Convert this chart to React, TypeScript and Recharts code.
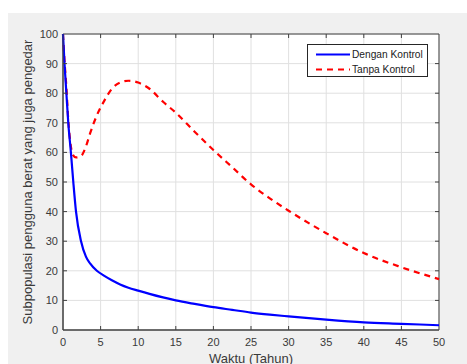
import { LineChart, Line, XAxis, YAxis, CartesianGrid, Legend, ReferenceArea } from 'recharts';

if (typeof document !== 'undefined') document.body.style.margin = '0';

// Time (years) and the two subpopulation curves
const waktu = [0, 0.2, 0.45, 0.7, 1.05, 1.37, 1.73, 2.4, 3.05, 3.6, 4.5, 5.5, 6.5, 7.6, 8.7, 10, 11.5, 13.3, 15, 17.5, 20, 22.5, 25, 27.5, 30, 35, 40, 45, 50];
const denganKontrol = [100, 90, 80, 70, 60, 50, 40, 30, 24.8, 22.5, 20, 18.3, 16.8, 15.4, 14.3, 13.3, 12.2, 11, 10, 8.8, 7.7, 6.8, 5.9, 5.2, 4.6, 3.5, 2.6, 2.1, 1.6];
const tanpaKontrol = [100, 91, 82, 71, 62, 59, 58.3, 58.8, 62, 66.4, 72.5, 77.5, 81.5, 83.6, 84.2, 83.6, 81.5, 77.1, 73.4, 67, 60.8, 55, 49.2, 44.5, 40.3, 32.7, 26, 21.2, 17.2];

const xTicks = [0, 5, 10, 15, 20, 25, 30, 35, 40, 45, 50];
const yTicks = [0, 10, 20, 30, 40, 50, 60, 70, 80, 90, 100];

const data = waktu.map((t, i) => ({ t, dengan: denganKontrol[i], tanpa: tanpaKontrol[i] }));

const W = 467;
const H = 364;
const PLOT = { left: 63, right: 439, top: 34, bottom: 330 };
const AXIS = '#404040';
const TEXT = '#3a3a3a';
const FONT = '"Liberation Sans", Arial, sans-serif';

const XTick = ({ x, y, payload }: any) => (
  <g>
    {payload.value > 0 && payload.value < 50 && (
      <>
        <line x1={x} x2={x} y1={PLOT.bottom} y2={PLOT.bottom - 4} stroke={AXIS} />
        <line x1={x} x2={x} y1={PLOT.top} y2={PLOT.top + 4} stroke={AXIS} />
      </>
    )}
    <text x={x} y={y} dy="0.71em" textAnchor="middle" fontSize={11} fill={TEXT} fontFamily={FONT}>
      {payload.value}
    </text>
  </g>
);

const YTick = ({ x, y, payload }: any) => (
  <g>
    {payload.value > 0 && payload.value < 100 && (
      <>
        <line x1={PLOT.left} x2={PLOT.left + 4} y1={y} y2={y} stroke={AXIS} />
        <line x1={PLOT.right} x2={PLOT.right - 4} y1={y} y2={y} stroke={AXIS} />
      </>
    )}
    <text x={x} y={y} dy="0.355em" textAnchor="end" fontSize={11} fill={TEXT} fontFamily={FONT}>
      {payload.value}
    </text>
  </g>
);

const LegendBox = () => (
  <div
    style={{
      width: 119,
      height: 31,
      border: '1px solid #262626',
      background: '#fff',
      fontFamily: FONT,
      fontSize: 10.2,
      color: '#222',
      position: 'relative',
    }}
  >
    {[
      { label: 'Dengan Kontrol', color: '#0000ff', dash: undefined, top: 3 },
      { label: 'Tanpa Kontrol', color: '#ff0000', dash: '6 5', top: 17.5 },
    ].map((it) => (
      <div key={it.label} style={{ position: 'absolute', left: 7, top: it.top, height: 13, display: 'flex', alignItems: 'center' }}>
        <svg width={35} height={13} style={{ display: 'block' }}>
          <line x1={1} x2={35} y1={6.5} y2={6.5} stroke={it.color} strokeWidth={2} strokeDasharray={it.dash} />
        </svg>
        <span style={{ marginLeft: 2, whiteSpace: 'nowrap', lineHeight: '13px' }}>{it.label}</span>
      </div>
    ))}
  </div>
);

export default function App() {
  return (
    <div style={{ position: 'relative', width: W, height: H, background: '#fff', overflow: 'hidden' }}>
      <div style={{ position: 'absolute', left: 8, top: 13, right: 0, bottom: 0, background: '#f0f0f0' }} />
      <div style={{ position: 'absolute', left: 0, top: 0 }}>
        <LineChart width={W} height={H} data={data} margin={{ top: 34, right: 28, bottom: 0, left: 0 }}>
          <CartesianGrid stroke="#e0e0e0" fill="#fff" fillOpacity={1} />
          <XAxis
            dataKey="t"
            type="number"
            domain={[0, 50]}
            ticks={xTicks}
            height={34}
            tickSize={0}
            tickMargin={8}
            tickLine={false}
            axisLine={{ stroke: AXIS }}
            tick={<XTick />}
            interval={0}
          />
          <YAxis
            type="number"
            domain={[0, 100]}
            ticks={yTicks}
            width={63}
            tickSize={0}
            tickMargin={5}
            tickLine={false}
            axisLine={{ stroke: AXIS }}
            tick={<YTick />}
            interval={0}
          />
          <ReferenceArea x1={0} x2={50} y1={0} y2={100} fill="none" stroke={AXIS} strokeWidth={1} />
          <Line
            dataKey="tanpa"
            name="Tanpa Kontrol"
            type="monotone"
            stroke="#ff0000"
            strokeWidth={2.2}
            strokeDasharray="6 5"
            dot={false}
            isAnimationActive={false}
          />
          <Line
            dataKey="dengan"
            name="Dengan Kontrol"
            type="monotone"
            stroke="#0000ff"
            strokeWidth={2.2}
            dot={false}
            isAnimationActive={false}
          />
          <Legend
            layout="horizontal"
            verticalAlign="middle"
            align="center"
            content={<LegendBox />}
            wrapperStyle={{ position: 'absolute', top: 44, left: 307, width: 121, height: 33, margin: 0 }}
          />
        </LineChart>
      </div>
      <svg width={W} height={H} style={{ position: 'absolute', left: 0, top: 0, pointerEvents: 'none' }}>
        <text x={251} y={363} textAnchor="middle" fontSize={13} fill={TEXT} fontFamily={FONT}>
          Waktu (Tahun)
        </text>
        <text transform="translate(31.5,182) rotate(-90)" textAnchor="middle" fontSize={13} fill={TEXT} fontFamily={FONT}>
          Subpopulasi pengguna berat yang juga pengedar
        </text>
      </svg>
    </div>
  );
}
